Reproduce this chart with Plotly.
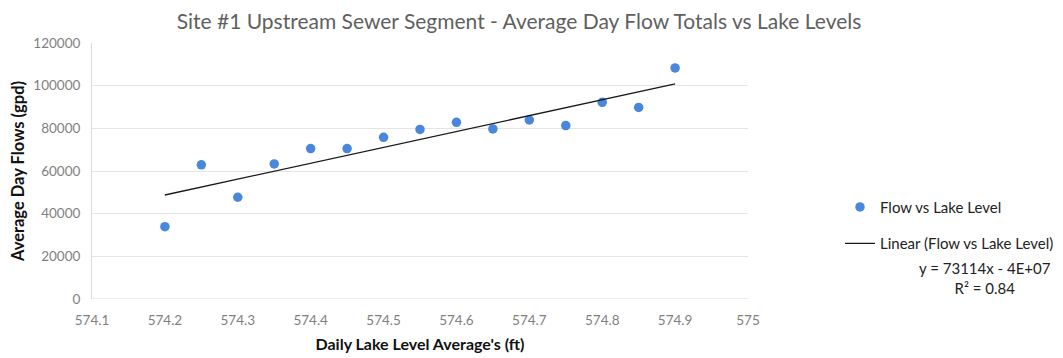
import numpy as np
import plotly.graph_objects as go

lake_level = [574.2, 574.25, 574.3, 574.35, 574.4, 574.45, 574.5, 574.55,
              574.6, 574.65, 574.7, 574.75, 574.8, 574.85, 574.9]
flow = [33900, 62900, 47700, 63300, 70500, 70500, 75800, 79500,
        82800, 79700, 83900, 81300, 92200, 89800, 108300]
x_ticks = [574.1, 574.2, 574.3, 574.4, 574.5, 574.6, 574.7, 574.8, 574.9, 575]
x_tick_labels = ["574.1", "574.2", "574.3", "574.4", "574.5", "574.6",
                 "574.7", "574.8", "574.9", "575"]
y_ticks = [0, 20000, 40000, 60000, 80000, 100000, 120000]
y_tick_labels = ["0", "20000", "40000", "60000", "80000", "100000", "120000"]
equation_text = "y = 73114x - 4E+07"
r2_text = "R² = 0.84"

FONT = "Lato"

# The HTML body has an 8px margin: the figure starts at page (8, 8).
OFF = 8
PAGE_W, PAGE_H = 1063, 358
W, H = PAGE_W - OFF, PAGE_H - OFF
# plot-area geometry in page pixels
PL, PR, PT, PB = 92, 748, 43, 299.5
PW, PH = PR - PL, PB - PT

slope, intercept = np.polyfit(lake_level, flow, 1)
trend_x = [min(lake_level), max(lake_level)]
trend_y = [slope * v + intercept for v in trend_x]

fig = go.Figure()
fig.add_trace(go.Scatter(
    x=lake_level, y=flow, mode="markers", name="Flow vs Lake Level",
    legendgroup="a",
    marker=dict(size=9.5, color="#4a86dc"),
))
fig.add_trace(go.Scatter(
    x=trend_x, y=trend_y, mode="lines", name="Linear (Flow vs Lake Level)",
    legendgroup="b",
    line=dict(color="#1a1a1a", width=1.3),
))

fig.update_layout(
    width=W, height=H,
    margin=dict(l=PL - OFF, r=PAGE_W - PR, t=PT - OFF, b=PAGE_H - PB, autoexpand=False),
    paper_bgcolor="white", plot_bgcolor="white",
    font=dict(family=FONT, color="#333333"),
    title=dict(text="Site #1 Upstream Sewer Segment - Average Day Flow Totals vs Lake Levels",
               x=(519 - OFF) / W, xanchor="center", y=1 - (22 - OFF) / H, yanchor="middle",
               font=dict(family=FONT, size=21, color="#5f5f5f")),
    showlegend=True,
    legend=dict(x=(840 - PL) / PW, xanchor="left", y=(PB - 191) / PH, yanchor="top",
                font=dict(family=FONT, size=15, color="#222222"),
                bgcolor="rgba(0,0,0,0)", tracegroupgap=14, traceorder="grouped"),
)
fig.update_xaxes(
    range=[574.1, 575], tickvals=x_ticks, ticktext=x_tick_labels,
    showgrid=False, zeroline=False, showline=False, automargin=False,
    ticks="", ticklabelstandoff=11,
    tickfont=dict(family=FONT, size=13.5, color="#7f7f7f"),
    title=dict(text="<b>Daily Lake Level Average's (ft)</b>", standoff=12,
               font=dict(family=FONT, size=16, color="#111111")),
)
fig.update_yaxes(
    range=[0, 120000], tickvals=y_ticks, ticktext=y_tick_labels,
    showgrid=True, gridcolor="#e4e4e4", gridwidth=1,
    zeroline=False, showline=True, linecolor="#d9d9d9", automargin=False,
    ticks="", ticklabelstandoff=8,
    tickfont=dict(family=FONT, size=13.5, color="#7f7f7f"),
    title=dict(text="<b>Average Day Flows (gpd)</b>", standoff=13,
               font=dict(family=FONT, size=16.5, color="#111111")),
)
fig.add_hline(y=0, line=dict(color="#d9d9d9", width=1))
fig.add_annotation(text=equation_text + "<br>" + r2_text, xref="paper", yref="paper",
                   x=(985 - PL) / PW, y=(PB - 278) / PH,
                   xanchor="center", yanchor="middle", showarrow=False, align="center",
                   font=dict(family=FONT, size=15, color="#222222"))

fig.write_html("out.html")
